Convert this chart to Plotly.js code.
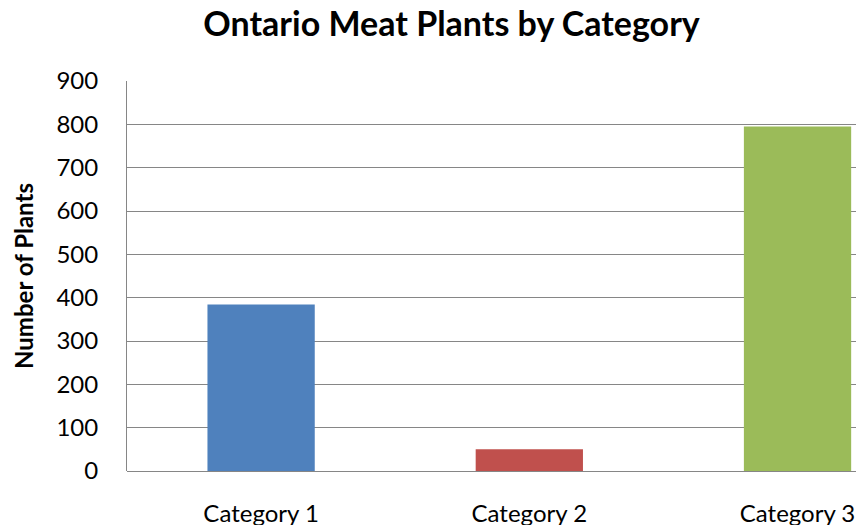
<!DOCTYPE html>
<html>
<head>
<meta charset="utf-8">
<script src="https://cdn.plot.ly/plotly-3.0.1.min.js"></script>
<style>html,body{margin:0;padding:0;background:#fff;}#chart{width:856px;height:525px;}</style>
</head>
<body>
<div id="chart"></div>
<script>
const categories = ["Category 1", "Category 2", "Category 3"];
const plantCounts = [384, 50, 795];
const barColors = ["#4F81BD", "#C0504D", "#9BBB59"];
const yTickValues = [0, 100, 200, 300, 400, 500, 600, 700, 800, 900];

const font = "Lato, 'Noto Sans', sans-serif";

Plotly.newPlot("chart", [{
  type: "bar",
  x: categories,
  y: plantCounts,
  marker: {color: barColors},
  hoverinfo: "x+y"
}], {
  width: 856,
  height: 525,
  margin: {l: 127, r: 0, t: 81, b: 54, pad: 0},
  paper_bgcolor: "#ffffff",
  plot_bgcolor: "#ffffff",
  bargap: 0.6,
  showlegend: false,
  title: {
    text: "<b>Ontario Meat Plants by Category</b>",
    font: {family: font, size: 34, color: "#000000"},
    x: 0.5275, xanchor: "center", xref: "container",
    y: 0.977, yanchor: "top", yref: "container"
  },
  xaxis: {
    type: "category",
    range: [-0.5, 2.218],
    showline: false,
    showgrid: false,
    ticks: "",
    ticklabelstandoff: 26,
    tickfont: {family: font, size: 24, color: "#000000"},
    fixedrange: true
  },
  yaxis: {
    range: [0, 900],
    tickvals: yTickValues,
    ticktext: yTickValues.map(String),
    showline: true,
    linecolor: "#868686",
    linewidth: 1,
    showgrid: true,
    gridcolor: "#868686",
    gridwidth: 1,
    zeroline: true,
    zerolinecolor: "#868686",
    zerolinewidth: 1,
    ticks: "",
    ticklabelstandoff: 23,
    tickfont: {family: font, size: 24, color: "#000000"},
    title: {
      text: "<b>Number of Plants</b>",
      font: {family: font, size: 24, color: "#000000"},
      standoff: 16
    },
    fixedrange: true
  }
}, {displayModeBar: false, staticPlot: true});
</script>
</body>
</html>
